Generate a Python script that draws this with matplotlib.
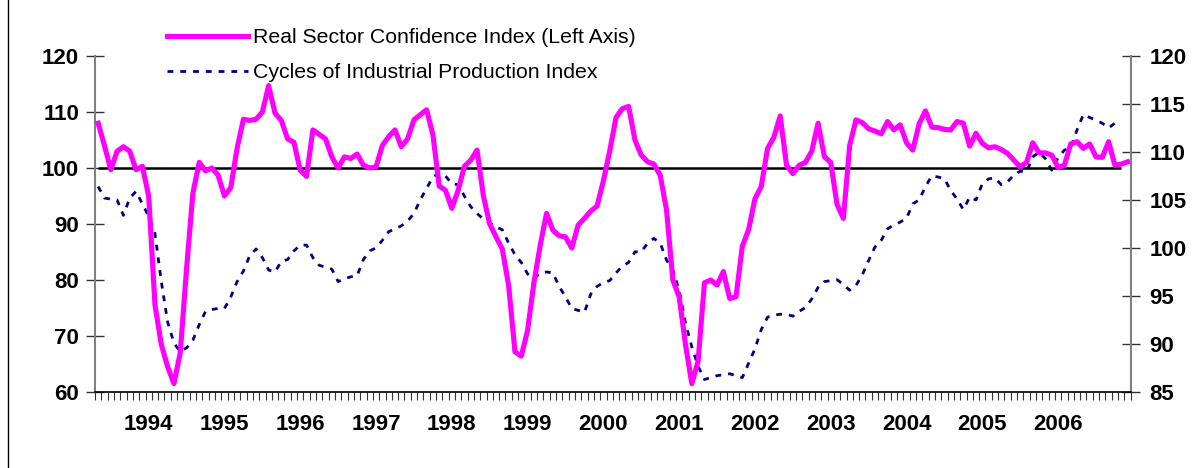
import numpy as np
import pandas as pd
import matplotlib
matplotlib.use("Agg")
from matplotlib import pyplot as plt
from matplotlib.lines import Line2D

plt.rcParams['font.family'] = ['Liberation Sans', 'DejaVu Sans']
plt.rcParams['lines.scale_dashes'] = False

# monthly data, May 1993 - Dec 2006
rsci = [108, 104, 99.7, 103, 103.8, 103, 99.7, 100.3, 95, 75.5,
        68.5, 64.5, 61.5, 67, 82, 95.5, 101, 99.5, 100, 98.7,
        95, 96.5, 103.5, 108.7, 108.5, 108.7, 110, 114.7, 109.8, 108.5,
        105.2, 104.6, 99.6, 98.5, 106.8, 106, 105.2, 102, 100, 102,
        101.7, 102.5, 100.5, 100, 100.2, 104, 105.6, 106.8, 103.8, 105.2,
        108.6, 109.5, 110.4, 106, 96.8, 96, 92.8, 96, 100.3, 101.4,
        103.2, 95, 90, 87.7, 85.5, 79, 67.2, 66.4, 71, 79.5,
        86.2, 91.9, 88.9, 87.9, 87.7, 85.7, 89.8, 91, 92.3, 93.2,
        97.7, 103, 109, 110.6, 111, 105, 102.3, 101.1, 100.7, 98.7,
        92.5, 80, 77, 68.5, 61.5, 65.5, 79.5, 80, 79.1, 81.5,
        76.7, 77, 86, 89, 94.5, 96.7, 103.5, 105.5, 109.3, 100.5,
        99, 100.5, 101, 103, 108, 102, 101, 93.5, 91, 104,
        108.6, 108.1, 107, 106.6, 106.1, 108.3, 106.8, 107.7, 104.5, 103.2,
        107.9, 110.2, 107.3, 107.2, 106.9, 106.8, 108.3, 108, 103.9, 106.2,
        104.4, 103.6, 103.8, 103.3, 102.6, 101.4, 100.2, 101, 104.5, 102.7,
        102.7, 102.3, 100.1, 100.5, 104.3, 104.7, 103.5, 104.3, 102, 101.9,
        104.7, 100.5, 100.7, 101.1]

ipi_cycle = [106.4, 105.2, 105.1, 105, 103.4, 105.2, 105.9, 104.6, 103.3, 101.5,
             96.5, 92.3, 90.1, 89.2, 89.6, 90.4, 92, 93.4, 93.6, 93.7,
             93.7, 94.9, 96.5, 97.6, 99.2, 99.9, 99, 97.7, 97.5, 98.6,
             98.8, 99.7, 100.3, 100.3, 99, 98.2, 98, 97.8, 96.5, 96.8,
             97, 97.1, 98.8, 99.7, 100, 100.8, 101.7, 102, 102.3, 102.8,
             103.6, 105, 106.2, 107.4, 107.8, 107.5, 106.7, 106.6, 105.4, 104.3,
             103.6, 103, 102.6, 102.2, 101.9, 100.5, 99.3, 98.5, 97.3, 96.8,
             97.4, 97.5, 97.4, 96, 94.9, 93.7, 93.5, 93.3, 95.2, 96,
             96.4, 96.6, 97.4, 98.1, 98.5, 99.6, 99.6, 100.5, 101, 100.5,
             98.75, 97.7, 95.6, 92.2, 89.7, 87.7, 86.3, 86.5, 86.7, 86.8,
             86.9, 86.7, 86.5, 88, 89.5, 91.5, 92.8, 93, 93.1, 93.1,
             92.9, 93.4, 93.8, 94.7, 95.9, 96.5, 96.6, 96.7, 96.2, 95.6,
             96.1, 97.2, 98.7, 100.1, 100.8, 102, 102.4, 102.7, 103.1, 104.6,
             105, 106.4, 107.5, 107.4, 107.2, 106, 105.1, 104, 105.3, 105,
             106.7, 107.2, 107.3, 106.6, 106.9, 107.6, 108, 107.9, 109.5, 110,
             109.3, 108.1, 109.4, 110.2, 110.4, 112.3, 113.9, 113.6, 113.3, 113,
             112.5, 113]

ref_level = 100
ref_len = 163
months = pd.date_range('1993-05-01', periods=len(rsci), freq='MS')
year_labels = ['1994', '1995', '1996', '1997', '1998', '1999', '2000',
               '2001', '2002', '2003', '2004', '2005', '2006']
left_ticks = [60, 70, 80, 90, 100, 110, 120]
right_ticks = [85, 90, 95, 100, 105, 110, 115, 120]

x = np.arange(len(rsci))
year_pos = [i for i, m in enumerate(months) if m.month == 1 and str(m.year) in year_labels]

fig = plt.figure(figsize=(11.96, 4.68), dpi=100)
ax = fig.add_axes([95 / 1196, 1 - 392 / 468, (1130.7 - 95) / 1196, 336 / 468])
ax2 = ax.twinx()

ax.hlines(ref_level, x[0], x[ref_len - 1], color='black', lw=1.8, zorder=2)
l1, = ax.plot(x, rsci, color='#FF00FF', lw=3.7, solid_joinstyle='round', zorder=3,
              label='Real Sector Confidence Index (Left Axis)')
l2, = ax2.plot(x[:len(ipi_cycle)], ipi_cycle, color='#000080', lw=2.0,
               dashes=(4.2, 5.0), zorder=3, label='Cycles of Industrial Production Index')
ax.set_zorder(ax2.get_zorder() + 1)
ax.patch.set_visible(False)

ax.set_xlim(-0.5, len(rsci) - 0.5)
ax.set_ylim(60, 120)
ax2.set_ylim(85, 120)
ax.set_yticks(left_ticks)
ax2.set_yticks(right_ticks)

ax.set_xticks(year_pos)
ax.set_xticklabels(year_labels)
ax.set_xticks(np.arange(-0.5, len(rsci), 1), minor=True)
ax.tick_params(axis='x', which='major', length=0, pad=16, labelsize=16)
ax.tick_params(axis='x', which='minor', length=6, width=0.8, color='#333333', direction='out')
ax.tick_params(axis='y', direction='inout', length=13, width=1, color='#333333', labelsize=16, pad=5)
ax2.tick_params(axis='y', direction='inout', length=13, width=1, color='#333333', labelsize=16, pad=7)
for t in ax.get_xticklabels() + ax.get_yticklabels() + ax2.get_yticklabels():
    t.set_fontweight('bold')

for a in (ax, ax2):
    a.spines['top'].set_visible(False)
ax.spines['right'].set_visible(False)
ax2.spines['left'].set_visible(False)
ax2.spines['bottom'].set_visible(False)
ax.spines['left'].set_color('#808080')
ax.spines['left'].set_linewidth(1.5)
ax2.spines['right'].set_color('#808080')
ax2.spines['right'].set_linewidth(1.5)
ax.spines['bottom'].set_color('black')
ax.spines['bottom'].set_linewidth(1.2)

fig.legend(handles=[l1, l2], loc='upper left', bbox_to_anchor=(167 / 1196, 1 - 28 / 468),
           frameon=False, fontsize=15.3, handlelength=3.8, handletextpad=0.25,
           labelspacing=0.75, borderpad=0, borderaxespad=0)

# chart frame, only its left edge lies inside the picture
fig.lines.append(Line2D([7.5 / 1196, 7.5 / 1196], [0, 1], transform=fig.transFigure,
                        color='black', lw=1))

fig.savefig('out.png', dpi=100)
